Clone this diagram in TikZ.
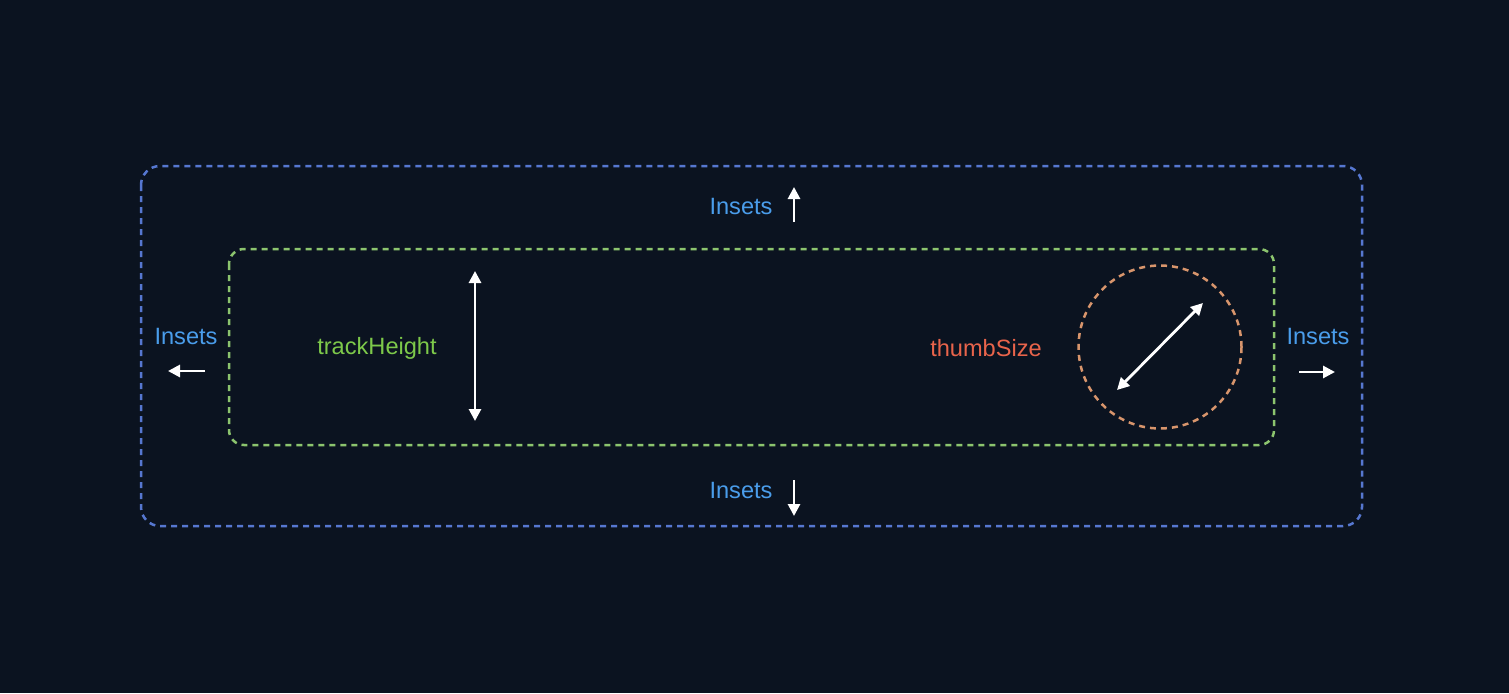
\documentclass[tikz,border=0pt]{standalone}
\usepackage{fontspec}
\setmainfont{Liberation Sans}
\usetikzlibrary{arrows.meta}
\definecolor{bg}{HTML}{0B1320}
\definecolor{outerblue}{HTML}{5677D0}
\definecolor{innergreen}{HTML}{8CC46E}
\definecolor{thumborange}{HTML}{D8956C}
\definecolor{insetblue}{HTML}{4A9DEB}
\definecolor{trackgreen}{HTML}{7DC94A}
\definecolor{thumbred}{HTML}{E9644B}
\tikzset{
  lbl/.style={inner sep=0pt, font=\fontsize{23.6}{28}\selectfont},
  insetlbl/.style={lbl, text=insetblue},
  dim/.style={draw=white, line width=2.8pt, -{Triangle[length=12pt,width=12pt]}},
  dimboth/.style={draw=white, line width=2.8pt, {Triangle[length=12pt,width=12pt]}-{Triangle[length=12pt,width=12pt]}},
  dashbox/.style={line width=2.5pt, dash pattern=on 6pt off 5pt},
}
\begin{document}
\begin{tikzpicture}[x=1pt,y=-1pt]
\fill[bg] (0,0) rectangle (1509,693);
\useasboundingbox (0,0) rectangle (1509,693);
% outer box
\draw[dashbox, draw=outerblue, rounded corners=19pt] (141,166) rectangle (1362,526);
% inner box
\draw[dashbox, draw=innergreen, rounded corners=15pt] (229,249) rectangle (1274,445);
% thumb circle
\node[draw=thumborange, dashbox, circle, minimum size=163pt, inner sep=0pt] (thumb) at (1160,347) {};
% labels
\node[insetlbl] (itop) at (741,206) {Insets};
\node[insetlbl] (ibot) at (741,490) {Insets};
\node[insetlbl] (ileft) at (186,336) {Insets};
\node[insetlbl] (iright) at (1318,336) {Insets};
\node[lbl, text=trackgreen] (track) at (377,348) {trackHeight};
\node[lbl, text=thumbred] (thumbl) at (986,348) {thumbSize};
% arrow coordinates
\coordinate (upA) at (794,222); \coordinate (upB) at (794,187);
\coordinate (dnA) at (794,480); \coordinate (dnB) at (794,516);
\coordinate (lfA) at (205,371); \coordinate (lfB) at (168,371);
\coordinate (rtA) at (1299,372); \coordinate (rtB) at (1335,372);
\coordinate (trA) at (475,271); \coordinate (trB) at (475,421);
\coordinate (thA) at (1117,390); \coordinate (thB) at (1203,303);
\draw[dim] (upA) -- (upB);
\draw[dim] (dnA) -- (dnB);
\draw[dim] (lfA) -- (lfB);
\draw[dim] (rtA) -- (rtB);
\draw[dimboth] (trA) -- (trB);
\draw[dimboth] (thA) -- (thB);
\end{tikzpicture}
\end{document}
